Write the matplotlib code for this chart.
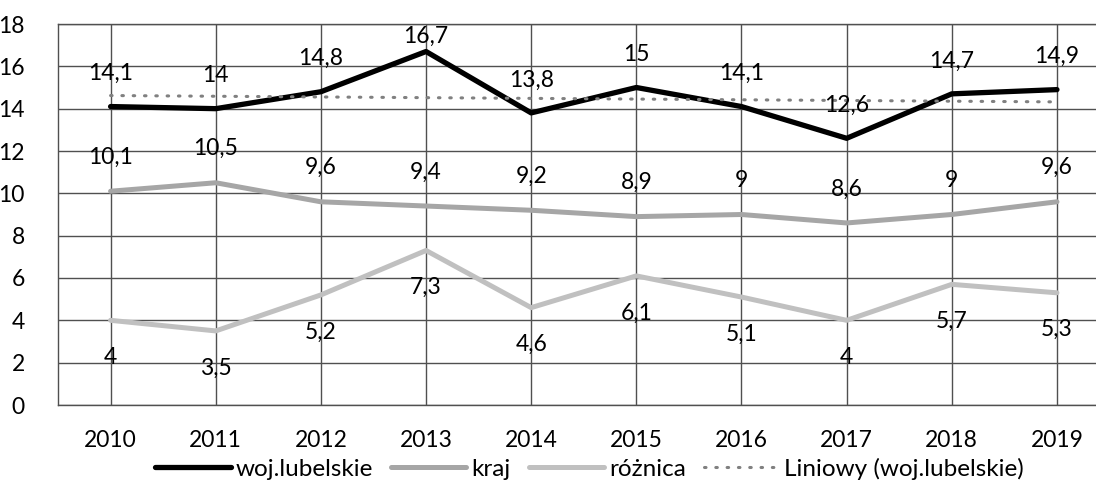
import matplotlib.pyplot as plt
import numpy as np

plt.rcParams['font.family'] = ['Lato', 'DejaVu Sans']

years = ['2010', '2011', '2012', '2013', '2014', '2015', '2016', '2017', '2018', '2019']
woj_lubelskie = [14.1, 14, 14.8, 16.7, 13.8, 15, 14.1, 12.6, 14.7, 14.9]
kraj = [10.1, 10.5, 9.6, 9.4, 9.2, 8.9, 9, 8.6, 9, 9.6]
roznica = [4, 3.5, 5.2, 7.3, 4.6, 6.1, 5.1, 4, 5.7, 5.3]


def fmt(v):
    return ('%g' % v).replace('.', ',')


fig = plt.figure(figsize=(10.96, 4.84), dpi=100)
ax = fig.add_axes([58 / 1096, 79 / 484, 1 - 58 / 1096, 381 / 484])

x = np.arange(len(years))

# linear trend of woj.lubelskie (Excel "Liniowy")
a, b = np.polyfit(x, woj_lubelskie, 1)
trend = a * x + b

ax.plot(x, woj_lubelskie, color='black', lw=3.8, solid_capstyle='round', zorder=4,
        label='woj.lubelskie')
ax.plot(x, kraj, color='#a6a6a6', lw=3.6, solid_capstyle='round', zorder=3, label='kraj')
ax.plot(x, roznica, color='#c0c0c0', lw=3.6, solid_capstyle='round', zorder=3,
        label='różnica')
ax.plot(x, trend, color='#808080', lw=2.2, ls=(0, (0.5, 3.2)), dash_capstyle='round',
        zorder=5, label='Liniowy (woj.lubelskie)')

px = 381 / 18.0  # pixels per unit
fs = 16.5
for i in range(len(years)):
    y1 = min(woj_lubelskie[i] + 33 / px, 17.4)
    ax.text(x[i], y1, fmt(woj_lubelskie[i]), ha='center', va='center', fontsize=fs, zorder=6)
    ax.text(x[i], kraj[i] + 34 / px, fmt(kraj[i]), ha='center', va='center', fontsize=fs, zorder=6)
    ax.text(x[i], roznica[i] - 37 / px, fmt(roznica[i]), ha='center', va='center', fontsize=fs,
            zorder=6)

ax.set_xlim(-0.5, 9 + 39 / 105)
ax.set_ylim(0, 18)
ax.set_yticks(range(0, 19, 2))
ax.set_xticks(x)
ax.set_xticklabels(years)
ax.tick_params(length=0, labelsize=fs)
ax.tick_params(axis='y', pad=24)
ax.tick_params(axis='x', pad=18)
ax.grid(True, color='#505050', lw=1)
ax.set_axisbelow(True)
for s in ['top', 'left', 'bottom']:
    ax.spines[s].set_color('#505050')
    ax.spines[s].set_linewidth(1)
ax.spines['right'].set_visible(False)

fig.legend(loc='lower center', bbox_to_anchor=(0.538, -0.036), ncol=4, frameon=False,
           fontsize=17.5, handlelength=3.1, handletextpad=0.2, columnspacing=0.75)

fig.savefig('out.png', dpi=100)
